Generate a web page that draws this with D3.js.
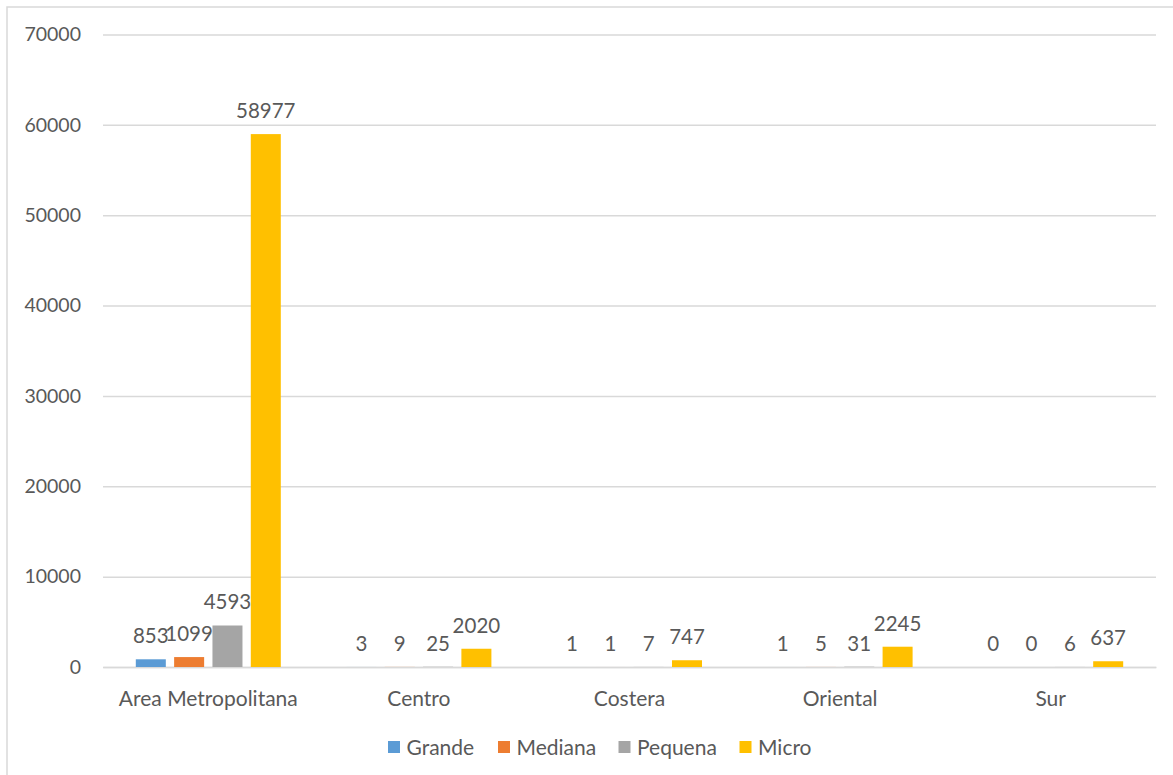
<!DOCTYPE html>
<html>
<head>
<meta charset="utf-8">
<script src="https://cdn.jsdelivr.net/npm/d3@7"></script>
<style>
  html, body { margin: 0; padding: 0; background: #fff; }
  svg { display: block; }
  text { font-family: Lato, "Open Sans", sans-serif; fill: #595959; }
</style>
</head>
<body>
<svg id="chart" width="1173" height="775"></svg>
<script>
const categories = ["Area Metropolitana", "Centro", "Costera", "Oriental", "Sur"];
const seriesNames = ["Grande", "Mediana", "Pequena", "Micro"];
const grande  = [853, 3, 1, 1, 0];
const mediana = [1099, 9, 1, 5, 0];
const pequena = [4593, 25, 7, 31, 6];
const micro   = [58977, 2020, 747, 2245, 637];
const yTicks = [0, 10000, 20000, 30000, 40000, 50000, 60000, 70000];
const colors = ["#5B9BD5", "#ED7D31", "#A5A5A5", "#FFC000"];

const seriesValues = [grande, mediana, pequena, micro];

const svg = d3.select("#chart");
const W = 1173, H = 775;
const plot = { left: 103, right: 1156, top: 34.5, bottom: 667 };

// outer border
svg.append("rect")
  .attr("x", 7).attr("y", 7)
  .attr("width", W + 10).attr("height", H + 10)
  .attr("fill", "none").attr("stroke", "#D9D9D9").attr("stroke-width", 1.5);

const x0 = d3.scaleBand().domain(categories).range([plot.left, plot.right]).paddingInner(0).paddingOuter(0);
const groupW = 145;
const x1 = d3.scaleBand().domain(seriesNames).range([-groupW / 2, groupW / 2]).paddingInner(0.217).paddingOuter(0);
const y = d3.scaleLinear().domain([0, 70000]).range([plot.bottom, plot.top]);

// gridlines
const yAxis = d3.axisLeft(y).tickValues(yTicks).tickSize(0).tickPadding(22).tickFormat(d3.format("d"));
const gy = svg.append("g").attr("transform", `translate(${plot.left},0)`).call(yAxis);
gy.select(".domain").remove();
gy.selectAll(".tick line").remove();
gy.selectAll(".tick").append("line")
  .attr("x1", 0).attr("x2", plot.right - plot.left)
  .attr("stroke", "#D9D9D9").attr("stroke-width", 1.5);
gy.selectAll(".tick text")
  .style("font-family", "Lato, 'Open Sans', sans-serif")
  .style("font-size", "19.5px").style("fill", "#595959");

// x axis
const xAxis = d3.axisBottom(x0).tickSize(0).tickPadding(24);
const gx = svg.append("g").attr("transform", `translate(0,${plot.bottom})`).call(xAxis);
gx.select(".domain").attr("stroke", "#D9D9D9").attr("stroke-width", 1.5);
gx.selectAll(".tick text")
  .style("font-family", "Lato, 'Open Sans', sans-serif")
  .style("font-size", "21px").style("fill", "#595959");

// bars
const rows = [];
categories.forEach((c, i) => {
  seriesNames.forEach((s, j) => {
    rows.push({ cat: c, series: s, value: seriesValues[j][i], color: colors[j] });
  });
});

const bars = svg.append("g");
bars.selectAll("rect").data(rows).join("rect")
  .attr("x", d => x0(d.cat) + x0.bandwidth() / 2 + x1(d.series))
  .attr("y", d => y(d.value))
  .attr("width", x1.bandwidth())
  .attr("height", d => y(0) - y(d.value))
  .attr("fill", d => d.color);

svg.append("g").selectAll("text").data(rows).join("text")
  .attr("x", d => x0(d.cat) + x0.bandwidth() / 2 + x1(d.series) + x1.bandwidth() / 2)
  .attr("y", d => y(d.value) - 16)
  .attr("text-anchor", "middle")
  .style("font-size", "20.5px")
  .text(d => d.value);

// legend
const legendItems = [
  { name: "Grande", x: 388 },
  { name: "Mediana", x: 498 },
  { name: "Pequena", x: 618.5 },
  { name: "Micro", x: 739.5 }
];
const lg = svg.append("g");
legendItems.forEach((it, i) => {
  lg.append("rect").attr("x", it.x).attr("y", 741).attr("width", 12).attr("height", 12).attr("fill", colors[i]);
  lg.append("text").attr("x", it.x + 18.5).attr("y", 754.5).style("font-size", "21px").text(seriesNames[i]);
});
</script>
</body>
</html>
